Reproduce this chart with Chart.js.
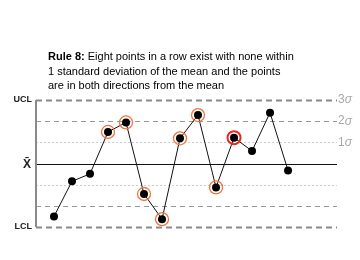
<!DOCTYPE html>
<html>
<head>
<meta charset="utf-8">
<script src="https://cdn.jsdelivr.net/npm/chart.js@4/dist/chart.umd.min.js"></script>
<style>
  html, body { margin: 0; padding: 0; background: #fff; }
  #wrap { width: 360px; height: 260px; }
</style>
</head>
<body>
<div id="wrap"><canvas id="rule-chart" width="360" height="260"></canvas></div>
<script>
// Datos del gráfico (en unidades de sigma respecto a la media)
const samples = [1, 2, 3, 4, 5, 6, 7, 8, 9, 10, 11, 12, 13, 14];
const values = [-2.5, -0.84, -0.49, 1.49, 1.94, -1.44, -2.63, 1.19, 2.29, -1.13, 1.22, 0.59, 2.4, -0.33];
const flagged = [4, 5, 6, 7, 8, 9, 10];   // puntos marcados en naranja
const violation = [11];                   // punto que dispara la regla
const sigmaLevels = [3, 2, 1, 0, -1, -2, -3];
const sigmaNums = ['3', '2', '1'];
const sigmaSymbol = 'σ';
const leftLabels = ['UCL', 'X̄', 'LCL'];
const titleBold = 'Rule 8:';
const titleLines = [
    ' Eight points in a row exist with none within',
    '1 standard deviation of the mean and the points',
    'are in both directions from the mean'
];

const toPoints = (list) => list.map(s => ({ x: s, y: values[s - 1] }));

const limitsPlugin = {
    id: 'limits',
    beforeDatasetsDraw(chart) {
        const { ctx, chartArea, scales } = chart;
        const y = scales.y;
        ctx.save();
        sigmaLevels.forEach(level => {
            const py = Math.round(y.getPixelForValue(level)) + 0.5;
            const abs = Math.abs(level);
            ctx.beginPath();
            if (abs === 3) { ctx.setLineDash([6, 4]); ctx.lineWidth = 2; ctx.strokeStyle = '#8a8a8a'; }
            else if (abs === 2) { ctx.setLineDash([5, 4]); ctx.lineWidth = 1.2; ctx.strokeStyle = '#9a9a9a'; }
            else if (abs === 1) { ctx.setLineDash([2, 2]); ctx.lineWidth = 1; ctx.strokeStyle = '#cfcfcf'; }
            else { ctx.setLineDash([]); ctx.lineWidth = 1; ctx.strokeStyle = '#111'; }
            ctx.moveTo(chartArea.left, py);
            ctx.lineTo(chartArea.right, py);
            ctx.stroke();
        });
        // eje vertical
        ctx.setLineDash([]);
        ctx.lineWidth = 2;
        ctx.strokeStyle = '#8a8a8a';
        ctx.beginPath();
        ctx.moveTo(chartArea.left, y.getPixelForValue(3));
        ctx.lineTo(chartArea.left, y.getPixelForValue(-3));
        ctx.stroke();

        // etiquetas de sigma
        ctx.fillStyle = '#a8a8a8';
        ctx.textBaseline = 'middle';
        ctx.textAlign = 'left';
        sigmaNums.forEach((t, i) => {
            const py = y.getPixelForValue(3 - i);
            ctx.font = '12px "Liberation Sans", Arial, sans-serif';
            ctx.fillText(t, chartArea.right + 1, py);
            const w = ctx.measureText(t).width;
            ctx.font = 'italic 12px "Liberation Sans", Arial, sans-serif';
            ctx.fillText(sigmaSymbol, chartArea.right + 1 + w, py);
        });

        // etiquetas izquierda
        ctx.fillStyle = '#222';
        ctx.textAlign = 'right';
        ctx.font = 'bold 9px "Liberation Sans", Arial, sans-serif';
        ctx.fillText(leftLabels[0], chartArea.left - 4, y.getPixelForValue(3));
        ctx.fillText(leftLabels[2], chartArea.left - 4, y.getPixelForValue(-3));
        ctx.font = 'bold 12px "Liberation Sans", Arial, sans-serif';
        ctx.fillText(leftLabels[1], chartArea.left - 5, y.getPixelForValue(0) + 1);

        // título
        ctx.textAlign = 'left';
        ctx.textBaseline = 'alphabetic';
        ctx.fillStyle = '#000';
        ctx.font = 'bold 11px "Liberation Sans", Arial, sans-serif';
        ctx.fillText(titleBold, 48, 60);
        const w = ctx.measureText(titleBold).width;
        ctx.font = '11px "Liberation Sans", Arial, sans-serif';
        ctx.fillText(titleLines[0], 48 + w, 60);
        ctx.fillText(titleLines[1], 48, 74.5);
        ctx.fillText(titleLines[2], 48, 89);
        ctx.restore();
    }
};

const ctxRule = document.getElementById('rule-chart').getContext('2d');
new Chart(ctxRule, {
    type: 'scatter',
    data: {
        datasets: [
            {
                data: toPoints(violation),
                showLine: false,
                pointRadius: 6.5,
                pointBackgroundColor: 'rgba(0,0,0,0)',
                pointBorderColor: '#e8281e',
                pointBorderWidth: 2
            },
            {
                data: toPoints(flagged),
                showLine: false,
                pointRadius: 6.5,
                pointBackgroundColor: 'rgba(0,0,0,0)',
                pointBorderColor: '#f4733c',
                pointBorderWidth: 1.3
            },
            {
                data: toPoints(samples),
                showLine: true,
                borderColor: '#111',
                borderWidth: 1,
                pointRadius: 4,
                pointBackgroundColor: '#000',
                pointBorderColor: '#000',
                pointBorderWidth: 0
            }
        ]
    },
    options: {
        responsive: false,
        animation: false,
        layout: { padding: { left: 36, right: 23, top: 100, bottom: 33 } },
        scales: {
            x: { type: 'linear', display: false, min: 0, max: 16.72 },
            y: { type: 'linear', display: false, min: -3, max: 3 }
        },
        plugins: {
            legend: { display: false },
            tooltip: { enabled: false }
        },
        elements: { line: { tension: 0 } }
    },
    plugins: [limitsPlugin]
});
</script>
</body>
</html>
